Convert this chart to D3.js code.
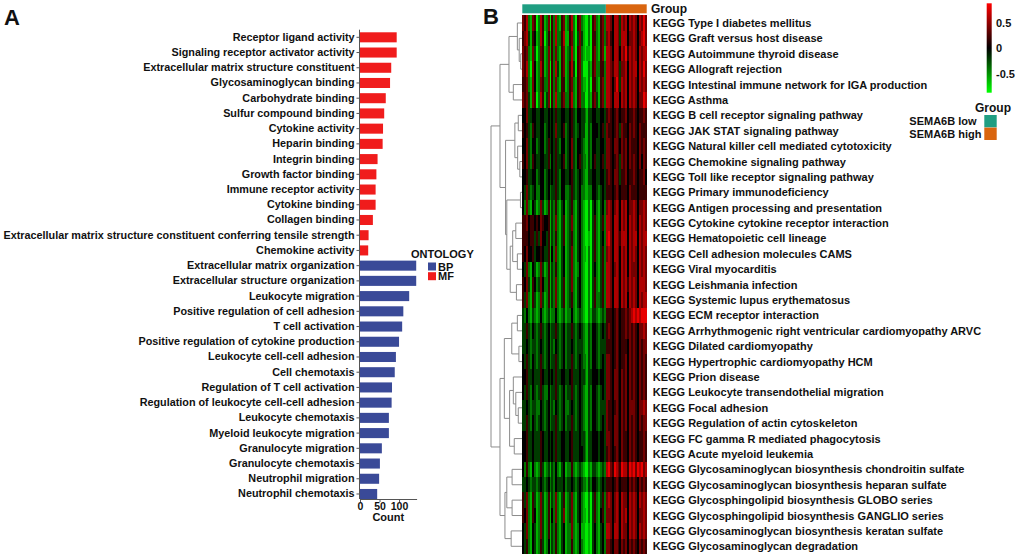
<!DOCTYPE html>
<html>
<head>
<meta charset="utf-8">
<script src="https://cdnjs.cloudflare.com/ajax/libs/d3/7.8.5/d3.min.js"></script>
<style>
body { margin: 0; background: #fff; }
svg { display: block; font-family: "Liberation Sans", Arial, sans-serif; font-weight: bold; }
</style>
</head>
<body>
<svg id="fig" width="1017" height="557"></svg>
<script>
// ---- panel A data (GO enrichment, counts)
var mfTerms = ["Receptor ligand activity", "Signaling receptor activator activity",
	"Extracellular matrix structure constituent", "Glycosaminoglycan binding", "Carbohydrate binding",
	"Sulfur compound binding", "Cytokine activity", "Heparin binding", "Integrin binding",
	"Growth factor binding", "Immune receptor activity", "Cytokine binding", "Collagen binding",
	"Extracellular matrix structure constituent conferring tensile strength", "Chemokine activity"];
var mfCounts = [94, 94, 80, 77, 66, 62, 59, 58, 45, 42, 40, 40, 33, 22, 21];

var bpTerms = ["Extracellular matrix organization", "Extracellular structure organization",
	"Leukocyte migration", "Positive regulation of cell adhesion", "T cell activation",
	"Positive regulation of cytokine production", "Leukocyte cell-cell adhesion", "Cell chemotaxis",
	"Regulation of T cell activation", "Regulation of leukocyte cell-cell adhesion",
	"Leukocyte chemotaxis", "Myeloid leukocyte migration", "Granulocyte migration",
	"Granulocyte chemotaxis", "Neutrophil migration", "Neutrophil chemotaxis"];
var bpCounts = [144, 144, 126, 111, 108, 100, 92, 89, 82, 81, 74, 74, 56, 51, 49, 44];

var ontologies = ["BP", "MF"];
var countTicks = [0, 50, 100];

// ---- panel B data (GSVA heatmap)
var keggTerms = ["KEGG Type I diabetes mellitus", "KEGG Graft versus host disease",
	"KEGG Autoimmune thyroid disease", "KEGG Allograft rejection",
	"KEGG Intestinal immune network for IGA production", "KEGG Asthma",
	"KEGG B cell receptor signaling pathway", "KEGG JAK STAT signaling pathway",
	"KEGG Natural killer cell mediated cytotoxicity", "KEGG Chemokine signaling pathway",
	"KEGG Toll like receptor signaling pathway", "KEGG Primary immunodeficiency",
	"KEGG Antigen processing and presentation", "KEGG Cytokine cytokine receptor interaction",
	"KEGG Hematopoietic cell lineage", "KEGG Cell adhesion molecules CAMS",
	"KEGG Viral myocarditis", "KEGG Leishmania infection", "KEGG Systemic lupus erythematosus",
	"KEGG ECM receptor interaction", "KEGG Arrhythmogenic right ventricular cardiomyopathy ARVC",
	"KEGG Dilated cardiomyopathy", "KEGG Hypertrophic cardiomyopathy HCM", "KEGG Prion disease",
	"KEGG Leukocyte transendothelial migration", "KEGG Focal adhesion",
	"KEGG Regulation of actin cytoskeleton", "KEGG FC gamma R mediated phagocytosis",
	"KEGG Acute myeloid leukemia", "KEGG Glycosaminoglycan biosynthesis chondroitin sulfate",
	"KEGG Glycosaminoglycan biosynthesis heparan sulfate", "KEGG Glycosphingolipid biosynthesis GLOBO series",
	"KEGG Glycosphingolipid biosynthesis GANGLIO series", "KEGG Glycosaminoglycan biosynthesis keratan sulfate",
	"KEGG Glycosaminoglycan degradation"];

var groups = ["SEMA6B low", "SEMA6B high"];
var groupSizes = [43, 21];
var groupColors = ["#1f9e82", "#d9650f"];

// one string per pathway, one digit per sample: 0 = -0.8 ... 4 = 0 ... 8 = +0.8
// (low samples | high samples), spaces only for readability
var heatRows = [
	"6572165027 5126052721 5612572056 2100205621 562 | 7764776376 7476764768 6",
	"5673154127 5025152722 5711562036 3100205521 562 | 6754776377 7466764678 6",
	"6562163026 5126152621 5612372056 2101105621 561 | 7764776476 8576764767 7",
	"6572064127 5126052731 5612573056 2000215622 552 | 7765776366 7476774768 6",
	"5562164126 5226052621 5512562156 2110205521 562 | 7764686376 7476764767 6",
	"6563165027 5136052722 5622572156 2200215631 562 | 7764777476 7476764668 7",
	"4463344334 4334343533 4433453244 3321334433 443 | 5654565455 6455654556 5",
	"5453254334 4234343633 4523453234 3311324443 453 | 6554565365 5465654655 5",
	"4463244234 4235343532 4423463244 3211324433 443 | 6654665465 6465554656 5",
	"5463254334 4335243533 4523463245 3221324533 453 | 6654565365 6465654646 5",
	"4453344234 4234343532 4433453234 3211334433 443 | 5654665355 6455654556 4",
	"4363234224 4234233532 4422353234 2211224432 343 | 5554565455 5465554555 5",
	"4262143126 3125132521 3412352134 2100203421 342 | 6764676476 7466764667 6",
	"5564554546 5445132621 3512362134 2100203521 352 | 7764776476 7476764767 6",
	"5554553536 4435132521 3512352134 2100103521 342 | 7864776577 7476774767 7",
	"5464453445 4335142621 3412362134 2110203521 352 | 6764776476 7476764767 6",
	"4362143126 3125132521 3412362124 2100203421 352 | 7764676476 7476664767 6",
	"5463154236 4225132621 3512362134 2100203521 352 | 7764776476 7576764777 6",
	"5362153126 3125132621 3512352134 2100203522 352 | 7764776476 7476764767 7",
	"3242132124 2123122421 2312242123 2100213321 232 | 5554565455 6567878788 8",
	"3353243235 3234233532 3423353234 3211324432 343 | 5654565455 6565654667 6",
	"3343233234 3234232432 3423343233 3211324432 333 | 5554565455 5465654656 6",
	"4353243235 3234233532 3423353234 3221324432 343 | 6654565455 6465654656 5",
	"4453343335 4334343533 4433453334 3321334443 443 | 6654665465 6465654656 5",
	"4353243235 3224233532 3423353234 3211324432 343 | 6654665465 6465654656 5",
	"3343233224 3234232432 3422343234 3211324432 333 | 6554565465 6466654667 6",
	"3353243234 3234233532 3423353234 3211324432 343 | 6554665465 6465654656 6",
	"4453343335 4334343533 4433453334 3321334443 443 | 6654665465 5465654556 5",
	"4453343335 4334343533 4433453334 4321334443 443 | 5654565465 5465654556 5",
	"4252142125 3123132421 3412252123 2100213321 232 | 7865876587 7587868786 7",
	"3343233234 3234232433 3423343234 3221324432 343 | 5554565455 5465654656 5",
	"5362153126 3125132621 3512362134 2100203521 352 | 6764676476 6476764767 6",
	"5462154126 3125142621 3612362134 2110203521 452 | 6664676476 7476764667 6",
	"4362143126 3125132521 3412262124 1100103421 342 | 7764776476 6476764767 6",
	"4352143125 3124132521 3412252124 2100103421 342 | 6654665465 6465654656 5"
];

// row dendrogram: [height, left, right], leaves are row indices
var rowTree = [1.0,
	[0.71,
		[0.42, [0.15, 0, [0.09, 1, [0.04, 2, 3]]], [0.28, 4, 5]],
		[0.53,
			[0.23, [0.12, 6, 7], [0.14, 8, [0.07, 9, 10]]],
			[0.49, [0.05, 11, 12], [0.38, [0.30, [0.20, 13, 14], [0.15, 15, 16]], [0.18, 17, 18]]]]],
	[0.71,
		[0.57,
			[0.33, [0.15, 19, 20], [0.10, 21, 22]],
			[0.40, [0.28, 23, [0.20, 24, [0.12, 25, 26]]], [0.25, 27, 28]]],
		[0.55, [0.49, [0.32, 29, 30], [0.32, 31, 32]], [0.35, 33, 34]]]];

var colorTicks = [0.5, 0, -0.5];
var colorDomain = [-0.865, 0.878];

var svg = d3.select("#fig");

// ================= panel A =================
var terms = mfTerms.concat(bpTerms);
var bars = mfTerms.map(function (t, i) { return { term: t, count: mfCounts[i], ont: "MF" }; })
	.concat(bpTerms.map(function (t, i) { return { term: t, count: bpCounts[i], ont: "BP" }; }));
var ontColor = d3.scaleOrdinal().domain(ontologies).range(["#3a4a98", "#f01c1c"]);

var yA = d3.scaleBand().domain(terms).range([29.7, 501.6]).paddingInner(0.34).paddingOuter(0.17);
var xA = d3.scaleLinear().domain([0, 145]).range([360, 416.6]);
var axisBottomY = 499;

var gA = svg.append("g");

gA.selectAll("rect.bar").data(bars).enter().append("rect")
	.attr("class", "bar")
	.attr("x", xA(0))
	.attr("y", function (d) { return yA(d.term); })
	.attr("width", function (d) { return xA(d.count) - xA(0); })
	.attr("height", yA.bandwidth())
	.attr("fill", function (d) { return ontColor(d.ont); });

var leftAxis = gA.append("g")
	.attr("transform", "translate(" + (xA(0) - 0.5) + ",0)")
	.call(d3.axisLeft(yA).tickSize(3).tickPadding(2));
leftAxis.select(".domain").remove();
leftAxis.selectAll("line").attr("stroke", "#555");
leftAxis.selectAll("text").attr("font-size", 10.8).attr("font-weight", "bold")
	.attr("font-family", "'Liberation Sans', Arial, sans-serif").attr("fill", "#111");

gA.append("line")
	.attr("x1", xA(0) - 0.5).attr("x2", xA(0) - 0.5)
	.attr("y1", yA.range()[0]).attr("y2", axisBottomY)
	.attr("stroke", "#555");

var bottomAxis = gA.append("g")
	.attr("transform", "translate(0," + axisBottomY + ")")
	.call(d3.axisBottom(xA).tickValues(countTicks).tickSize(3).tickSizeOuter(0).tickPadding(1));
bottomAxis.select(".domain").attr("stroke", "#555");
bottomAxis.selectAll("line").attr("stroke", "#555");
bottomAxis.selectAll("text").attr("font-size", 10.5).attr("font-weight", "bold")
	.attr("font-family", "'Liberation Sans', Arial, sans-serif").attr("fill", "#111");

gA.append("text")
	.attr("x", (xA.range()[0] + xA.range()[1]) / 2)
	.attr("y", 521)
	.attr("text-anchor", "middle")
	.attr("font-size", 11)
	.attr("fill", "#111")
	.text("Count");

// legend
var legA = gA.append("g").attr("transform", "translate(411,0)");
legA.append("text").attr("x", 0).attr("y", 257.5).attr("font-size", 11).attr("fill", "#111").text("ONTOLOGY");
legA.selectAll("rect").data(ontologies).enter().append("rect")
	.attr("x", 17)
	.attr("y", function (d, i) { return 262.5 + i * 9.7; })
	.attr("width", 8).attr("height", 8)
	.attr("fill", function (d) { return ontColor(d); });
legA.selectAll("text.lab").data(ontologies).enter().append("text")
	.attr("class", "lab")
	.attr("x", 27)
	.attr("y", function (d, i) { return 270.5 + i * 9.7; })
	.attr("font-size", 11).attr("fill", "#111")
	.text(function (d) { return d; });

svg.append("text").attr("x", 4).attr("y", 25).attr("font-size", 22).attr("fill", "#111").text("A");

// ================= panel B =================
var nCols = d3.sum(groupSizes);
var cells = [];
heatRows.forEach(function (row, r) {
	row.replace(/[^0-8]/g, "").split("").forEach(function (ch, c) {
		cells.push({ row: r, col: c, v: (+ch - 4) / 5 });
	});
});

var xB = d3.scaleBand().domain(d3.range(nCols)).range([522.3, 646.7]);
var yB = d3.scaleBand().domain(d3.range(keggTerms.length)).range([15.3, 554]);
var heatColor = d3.scaleLinear().domain([colorDomain[0], 0, colorDomain[1]])
	.range(["#00ff00", "#000000", "#ff0000"]);

var gB = svg.append("g");

gB.append("g").attr("shape-rendering", "crispEdges")
	.selectAll("rect").data(cells).enter().append("rect")
	.attr("x", function (d) { return xB(d.col); })
	.attr("y", function (d) { return yB(d.row); })
	.attr("width", xB.bandwidth() + 0.4)
	.attr("height", yB.bandwidth() + 0.4)
	.attr("fill", function (d) { return heatColor(d.v); });

// group annotation bar
var groupStart = [0, groupSizes[0]];
gB.selectAll("rect.grp").data(groups).enter().append("rect")
	.attr("class", "grp")
	.attr("x", function (d, i) { return xB(groupStart[i]); })
	.attr("y", 4.3)
	.attr("width", function (d, i) { return xB.bandwidth() * groupSizes[i]; })
	.attr("height", 9)
	.attr("fill", function (d, i) { return groupColors[i]; });
gB.append("text").attr("x", 651).attr("y", 13).attr("font-size", 12).attr("fill", "#111").text("Group");

// row labels
gB.selectAll("text.row").data(keggTerms).enter().append("text")
	.attr("class", "row")
	.attr("x", 652.7)
	.attr("y", function (d, i) { return yB(i) + yB.bandwidth() / 2 + 4; })
	.attr("font-size", 11).attr("fill", "#111")
	.text(function (d) { return d; });

// dendrogram
var xTree = d3.scaleLinear().domain([0, 1]).range([522, 491]);
var gTree = gB.append("g").attr("stroke", "#8c8c8c").attr("stroke-width", 1).attr("fill", "none");
function drawNode(node) {
	if (typeof node === "number") {
		return { x: xTree(0), y: yB(node) + yB.bandwidth() / 2 };
	}
	var a = drawNode(node[1]);
	var b = drawNode(node[2]);
	var x = xTree(node[0]);
	gTree.append("path")
		.attr("d", "M" + a.x + "," + a.y + "H" + x + "V" + b.y + "H" + b.x);
	return { x: x, y: (a.y + b.y) / 2 };
}
drawNode(rowTree);

// colour bar
var yCbar = d3.scaleLinear().domain(colorDomain).range([92.7, 3.3]);
var grad = svg.append("defs").append("linearGradient")
	.attr("id", "cbar").attr("x1", 0).attr("y1", 1).attr("x2", 0).attr("y2", 0);
d3.range(0, 1.0001, 0.1).forEach(function (t) {
	var v = colorDomain[0] + t * (colorDomain[1] - colorDomain[0]);
	grad.append("stop").attr("offset", t).attr("stop-color", heatColor(v));
});
gB.append("rect")
	.attr("x", 986.7).attr("y", yCbar.range()[1])
	.attr("width", 5).attr("height", yCbar.range()[0] - yCbar.range()[1])
	.attr("fill", "url(#cbar)");
gB.selectAll("text.ctick").data(colorTicks).enter().append("text")
	.attr("class", "ctick")
	.attr("x", 996)
	.attr("y", function (d) { return yCbar(d) + 4; })
	.attr("font-size", 11).attr("fill", "#111")
	.text(function (d) { return d; });

// group legend
var legB = gB.append("g");
legB.append("text").attr("x", 975).attr("y", 112).attr("font-size", 12).attr("fill", "#111").text("Group");
legB.selectAll("rect").data(groups).enter().append("rect")
	.attr("x", 984.3)
	.attr("y", function (d, i) { return 115 + i * 12.6; })
	.attr("width", 12.4).attr("height", 12.4)
	.attr("fill", function (d, i) { return groupColors[i]; });
legB.selectAll("text.glab").data(groups).enter().append("text")
	.attr("class", "glab")
	.attr("x", 909.3)
	.attr("y", function (d, i) { return 125 + i * 13; })
	.attr("font-size", 11).attr("fill", "#111")
	.text(function (d) { return d; });

svg.append("text").attr("x", 483).attr("y", 24).attr("font-size", 22).attr("fill", "#111").text("B");
</script>
</body>
</html>
